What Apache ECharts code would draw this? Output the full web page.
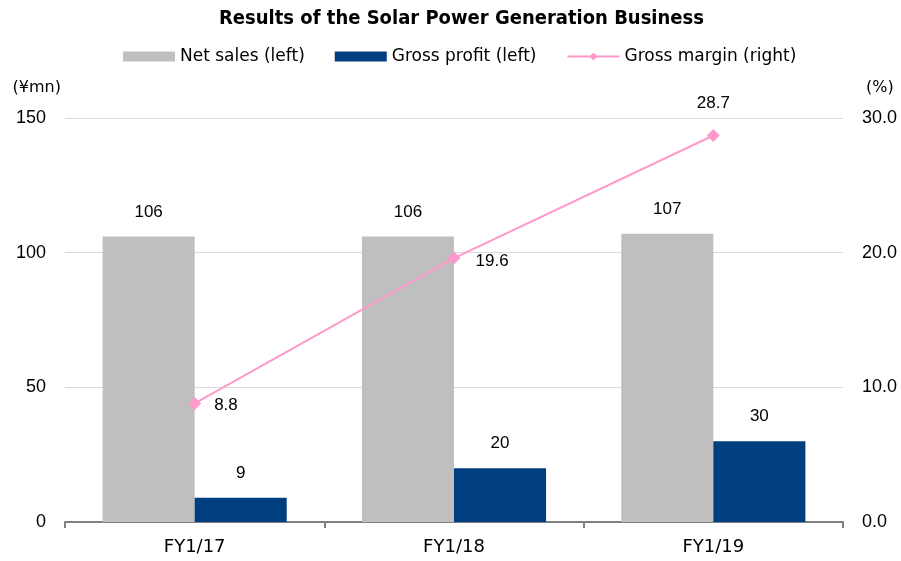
<!DOCTYPE html>
<html>
<head>
<meta charset="utf-8">
<script src="https://cdn.jsdelivr.net/npm/echarts@6/dist/echarts.min.js"></script>
<style>
  html, body { margin: 0; padding: 0; background: #fff; }
  #main { width: 901px; height: 561px; }
</style>
</head>
<body>
<div id="main"></div>
<script>
var categories = ['FY1/17', 'FY1/18', 'FY1/19'];
var netSales = [106, 106, 107];
var grossProfit = [9, 20, 30];
var grossMargin = [8.8, 19.6, 28.7];

var chart = echarts.init(document.getElementById('main'));
var wide = '"DejaVu Sans", sans-serif';
var num = '"Liberation Sans", Arial, sans-serif';

// label placement per point of the margin line
var marginPos = [
  { position: 'right', offset: [8, 2] },
  { position: 'right', offset: [10, 3] },
  { position: 'top', offset: [0, -12] }
];

chart.setOption({
  animation: false,
  backgroundColor: '#fff',
  title: {
    text: 'Results of the Solar Power Generation Business',
    left: 214,
    top: 4,
    textStyle: { fontFamily: '"DejaVu Sans Condensed", "DejaVu Sans", sans-serif', fontSize: 20, fontWeight: 'bold', color: '#000' }
  },
  legend: {
    top: 43,
    left: 118,
    itemWidth: 52,
    itemHeight: 10,
    itemGap: 30,
    textStyle: { fontFamily: wide, fontSize: 17, color: '#000' },
    data: [
      { name: 'Net sales (left)', icon: 'rect' },
      { name: 'Gross profit (left)', icon: 'rect' },
      { name: 'Gross margin (right)' }
    ]
  },
  grid: { left: 65, right: 58, top: 118, bottom: 39, outerBoundsMode: 'none', containLabel: false },
  xAxis: {
    type: 'category',
    data: categories,
    axisLine: { lineStyle: { color: '#808080', width: 2 } },
    axisTick: { show: true, length: 6, lineStyle: { color: '#808080', width: 2 } },
    axisLabel: { fontFamily: wide, fontSize: 18, color: '#000', margin: 16 }
  },
  yAxis: [
    {
      type: 'value',
      min: 0, max: 150, interval: 50,
      name: '(¥mn)',
      nameLocation: 'end',
      nameGap: 22,
      nameTextStyle: { fontFamily: wide, fontSize: 16, color: '#000', align: 'right', padding: [0, 4, 0, 0] },
      axisLine: { show: false },
      axisTick: { show: false },
      axisLabel: { fontFamily: num, fontSize: 18, color: '#000', margin: 19 },
      splitLine: { lineStyle: { color: '#d9d9d9', width: 1 } }
    },
    {
      type: 'value',
      min: 0, max: 30, interval: 10,
      name: '(%)',
      nameLocation: 'end',
      nameGap: 22,
      nameTextStyle: { fontFamily: wide, fontSize: 16, color: '#000', align: 'left', padding: [0, 0, 0, 23] },
      axisLine: { show: false },
      axisTick: { show: false },
      axisLabel: {
        fontFamily: num, fontSize: 18, color: '#000', margin: 19,
        formatter: function (v) { return v.toFixed(1); }
      },
      splitLine: { show: false }
    }
  ],
  series: [
    {
      name: 'Net sales (left)',
      type: 'bar',
      data: netSales,
      barWidth: '35.5%',
      barGap: '0%',
      itemStyle: { color: '#bfbfbf' },
      label: { show: true, position: 'top', distance: 16, fontFamily: num, fontSize: 17, color: '#000' }
    },
    {
      name: 'Gross profit (left)',
      type: 'bar',
      data: grossProfit,
      barWidth: '35.5%',
      itemStyle: { color: '#003f7f' },
      label: { show: true, position: 'top', distance: 16, fontFamily: num, fontSize: 17, color: '#000' }
    },
    {
      name: 'Gross margin (right)',
      type: 'line',
      yAxisIndex: 1,
      z: 5,
      data: grossMargin.map(function (v, i) {
        return { value: v, label: marginPos[i] };
      }),
      symbol: 'diamond',
      symbolSize: 13,
      lineStyle: { color: '#ff99cc', width: 2 },
      itemStyle: { color: '#ff99cc' },
      label: {
        show: true, fontFamily: num, fontSize: 17, color: '#000',
        formatter: function (p) { return p.value.toFixed(1); }
      }
    }
  ]
});
</script>
</body>
</html>
